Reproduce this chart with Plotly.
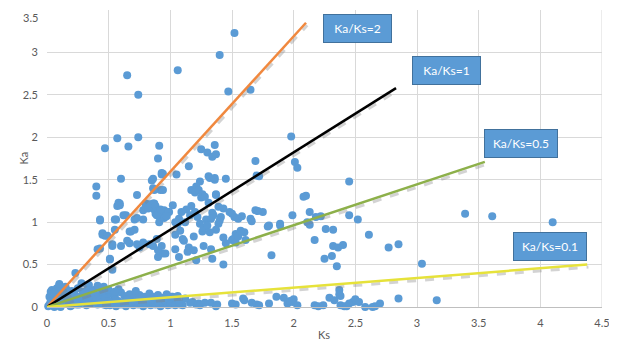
import plotly.graph_objects as go

# ---- scatter data (Ks, Ka) ----
ks_upper = [0.47,0.57,0.65,0.66,0.60,0.74,0.74,0.91,0.90,0.94,0.86,1.06,1.05,1.15,1.25,1.30,1.34,1.36,1.37,1.40,1.47,1.52,1.65,1.69,1.98,2.01,2.03,1.32,1.36,1.45,1.24,1.72,0.93,1.70]
ka_upper = [1.87,1.99,2.73,1.89,1.51,2.50,2.00,1.90,1.75,1.57,1.51,2.79,1.56,1.66,1.86,1.82,1.77,1.91,1.80,2.97,2.54,3.23,2.56,1.72,2.01,1.71,1.64,1.52,1.50,1.51,1.48,1.54,1.56,1.55]

ks_mid = [0.40,0.40,0.43,0.41,0.45,0.47,0.53,0.51,0.56,0.57,0.59,0.53,0.55,0.60,0.64,0.68,0.67,0.73,0.75,0.78,0.78,0.80,0.85,0.86,0.87,0.88,0.91,0.91,0.93,0.89,0.90,0.94,0.95,0.99,1.02,0.94,1.07,1.08,1.07,1.12,1.11,1.17,1.21,1.25,1.17,1.20,1.22,1.24,1.26,1.29,1.31,1.36,1.37,1.31,1.34,1.39,1.41,1.39,1.37,1.43,1.43,1.34,1.21,1.14,1.48,1.50,1.50,1.53,1.55,1.60,1.61,1.65,1.69,1.75,1.79,1.82,1.89,1.99,2.10,2.11,
          1.20,1.23,1.26,1.28,1.37,1.43,1.35,1.33,1.40,1.09,1.13,1.16,1.04,1.06,1.27,1.30,1.32,1.04,1.10,1.19,1.15,1.04,1.19,1.33,1.51,1.53,1.55,1.57,1.52,1.58,1.66,1.71,1.80,1.89,2.08,1.27,1.45,
          0.45,0.49,0.67,0.71,0.65,0.53,0.43,0.51,0.73,0.78,0.83,0.86,0.90,0.96,0.23,0.10,0.34,
          0.93,0.87,0.92,0.58,0.59,0.80,0.83,0.87,0.82,0.86,0.88,0.90,0.93,0.95,0.98,0.89,0.92,0.97,0.43,0.55,0.62,0.71,0.73]
ka_mid = [1.42,1.31,1.02,0.68,0.87,0.84,0.44,0.56,1.03,1.19,1.22,0.72,0.91,0.72,1.08,0.89,0.75,1.32,0.70,1.14,1.03,1.22,1.49,1.40,1.22,1.10,1.07,1.00,0.72,0.80,0.59,0.63,1.14,1.12,1.20,1.38,1.04,0.90,0.59,1.00,0.78,1.38,1.42,1.29,1.19,1.12,1.06,0.98,0.89,1.03,1.54,1.52,1.33,1.23,1.11,1.18,1.06,0.98,0.91,0.82,0.50,0.57,0.55,0.65,1.12,1.10,0.79,0.86,1.04,0.88,0.79,1.04,1.14,1.12,0.95,0.61,0.96,1.08,1.31,1.00,
          1.35,1.38,1.33,1.30,1.32,1.16,1.08,1.04,1.02,1.12,1.15,1.08,1.00,0.98,0.93,0.96,0.88,0.85,0.80,0.83,0.70,0.68,0.67,0.68,0.80,0.76,0.83,0.90,1.06,1.07,1.01,1.13,0.96,0.98,1.30,0.72,0.75,
          0.85,0.84,0.89,0.91,0.78,0.74,0.69,0.57,0.74,0.76,0.74,0.72,0.67,0.63,0.40,0.26,0.26,
          1.58,1.38,1.38,1.23,1.20,1.18,1.21,1.15,1.16,1.22,1.19,1.13,1.10,1.05,1.12,1.08,1.15,1.07,1.03,1.03,1.08,1.03,1.05]

ks_right = [2.45,2.13,2.13,2.18,2.22,2.17,2.26,2.32,2.45,2.52,2.61,2.32,2.36,2.40,2.25,2.31,2.35,2.77,2.85,3.04,3.39,3.61,4.10]
ka_right = [1.48,1.12,0.97,1.06,1.07,0.79,0.92,0.91,1.08,1.03,0.85,0.72,0.70,0.73,0.57,0.60,0.48,0.70,0.74,0.51,1.10,1.07,1.00]

ks_low = [2.17,2.20,2.24,2.29,2.33,2.37,2.37,2.38,2.38,2.41,2.43,2.45,2.48,2.50,2.53,2.58,2.64,2.66,2.70,2.85,3.16,
          1.02,1.00,1.03,1.05,1.08,1.18,1.21,1.23,1.33,1.38,1.37,1.53,1.59,1.66,1.70,1.72,1.80,1.86,1.92,1.95,1.97,2.00,1.16,1.24,1.28,1.50,1.60,1.99,2.03,1.12,1.10,
          0.50,0.55,0.60,0.63,0.67,0.71,0.75,0.79,0.83,0.86,0.90,0.94,0.97,1.01,1.06,0.58,0.72,
          0.46,0.48,0.51,0.53,0.56,0.58,0.60,0.62,0.64,0.66,0.68,0.70,0.72,0.74,0.76,0.78,0.80,0.82,0.84,0.86,0.88,0.90,0.92,0.94,0.96,0.98,1.00,1.04,1.07,0.55,0.65,0.75,0.85,0.95]
ka_low = [0.02,0.01,0.02,0.11,0.08,0.20,0.15,0.13,0.02,0.01,0.01,0.04,0.06,0.09,0.06,0.00,0.00,0.01,0.04,0.10,0.08,
          0.12,0.05,0.08,0.06,0.03,0.06,0.03,0.04,0.05,0.03,0.01,0.03,0.10,0.05,0.03,0.02,0.04,0.12,0.11,0.04,0.07,0.09,0.05,0.02,0.05,0.04,0.08,0.06,0.02,0.10,0.02,
          0.15,0.12,0.17,0.13,0.15,0.11,0.14,0.12,0.16,0.12,0.14,0.11,0.15,0.12,0.13,0.21,0.19,
          0.03,0.06,0.02,0.05,0.01,0.07,0.03,0.05,0.01,0.04,0.07,0.02,0.05,0.03,0.06,0.01,0.04,0.07,0.02,0.05,0.03,0.06,0.01,0.04,0.07,0.02,0.03,0.02,0.05,0.09,0.09,0.09,0.09,0.09]

ks_origin = [0.01,0.02,0.03,0.04,0.05,0.06,0.07,0.08,0.09,0.10,0.11,0.12,0.13,0.14,0.15,0.16,0.17,0.18,0.19,0.20,0.21,0.22,0.23,0.24,0.25,0.26,0.27,0.28,0.29,0.30,0.31,0.32,0.33,0.34,0.35,0.36,0.37,0.38,0.39,0.40,0.41,0.42,0.43,0.44,0.45,0.47,0.48,0.50,
             0.02,0.03,0.05,0.08,0.10,0.04,0.06,0.07,0.09,0.12,0.14,0.16,0.18,0.20,0.22,0.24,0.26,0.28,0.30,0.46,0.50,0.55,0.33,0.37,0.41,0.15,0.19,0.11,0.03,0.06]
ka_origin = [0.01,0.03,0.02,0.06,0.04,0.10,0.02,0.15,0.05,0.08,0.18,0.03,0.12,0.06,0.10,0.20,0.04,0.14,0.08,0.02,0.11,0.16,0.05,0.10,0.22,0.03,0.08,0.13,0.18,0.05,0.10,0.02,0.15,0.07,0.12,0.04,0.09,0.20,0.06,0.11,0.03,0.14,0.08,0.05,0.17,0.10,0.02,0.07,
             0.12,0.18,0.15,0.22,0.27,0.20,0.17,0.08,0.12,0.09,0.16,0.13,0.05,0.19,0.07,0.03,0.12,0.28,0.16,0.24,0.20,0.18,0.22,0.18,0.25,0.24,0.01,0.00,0.07,0.00]

ks = ks_upper + ks_mid + ks_right + ks_low + ks_origin
ka = ka_upper + ka_mid + ka_right + ka_low + ka_origin

# ---- reference lines (drawn from origin to end point) ----
line_labels = ["Ka/Ks=2", "Ka/Ks=1", "Ka/Ks=0.5", "Ka/Ks=0.1"]
line_end_ks = [2.10, 2.83, 3.55, 4.38]
line_end_ka = [3.35, 2.58, 1.71, 0.50]
line_colors = ["#F0883E", "#000000", "#8DB04A", "#E6E23A"]
label_ks = [2.514, 3.236, 3.840, 4.075]
label_ka = [3.284, 2.783, 1.928, 0.713]
label_w = [69, 69, 74, 74]

x_ticks = [0, 0.5, 1, 1.5, 2, 2.5, 3, 3.5, 4, 4.5]
y_ticks = [0, 0.5, 1, 1.5, 2, 2.5, 3, 3.5]

fig = go.Figure()
fig.add_trace(go.Scatter(x=ks, y=ka, mode="markers",
                         marker=dict(size=8, color="#5B9BD5", line=dict(width=0)),
                         showlegend=False, hoverinfo="x+y", cliponaxis=False))

# soft shadows under the reference lines
for ex, ey in zip(line_end_ks, line_end_ka):
    fig.add_trace(go.Scatter(x=[0.01, ex + 0.01], y=[-0.03, ey - 0.03], mode="lines",
                             line=dict(color="rgba(130,130,130,0.35)", width=3, dash="dash"),
                             showlegend=False, hoverinfo="skip"))
for ex, ey, c in zip(line_end_ks, line_end_ka, line_colors):
    fig.add_trace(go.Scatter(x=[0, ex], y=[0, ey], mode="lines",
                             line=dict(color=c, width=2.5),
                             showlegend=False, hoverinfo="skip", cliponaxis=False))

for t, lx, ly, w in zip(line_labels, label_ks, label_ka, label_w):
    fig.add_annotation(x=lx, y=ly, xref="x", yref="y", text=t, showarrow=False,
                       font=dict(family="Lato, Open Sans, sans-serif", size=12, color="white"),
                       bgcolor="#5B9BD5", bordercolor="#41719C", borderwidth=1,
                       width=w - 4, height=29 - 4, borderpad=1, align="center", valign="middle")

# page has an 8px body margin -> figure is 8px smaller and origin shifted
OFF = 8
W, H = 617 - OFF, 355 - OFF
L, R, T, B = 47 - OFF, 15, 10 - OFF, 48

def px_to_paper(px, py):
    return ((px - OFF) - L) / (W - L - R), (H - B - (py - OFF)) / (H - T - B)

kx, ky = px_to_paper(14, 158)
fig.add_annotation(x=kx, y=ky, xref="paper", yref="paper", text="Ka", showarrow=False,
                   textangle=-90, font=dict(size=11, color="#595959"))
sx, sy = px_to_paper(324, 343)
fig.add_annotation(x=sx, y=sy, xref="paper", yref="paper", text="Ks", showarrow=False,
                   font=dict(size=11, color="#595959"))

# top y tick label drawn as annotation, kept just inside the figure
y_ticktext = [f"{v:g}" for v in y_ticks]
top_label = y_ticktext[-1]
y_ticktext[-1] = ""
fig.add_annotation(x=0, y=y_ticks[-1], xref="paper", yref="y", text=top_label,
                   showarrow=False, xanchor="right", yanchor="top", xshift=-8, yshift=0,
                   borderpad=0, font=dict(size=11, color="#595959"))

fig.update_layout(
    width=W, height=H,
    margin=dict(l=L, r=R, t=T, b=B, autoexpand=False),
    paper_bgcolor="white", plot_bgcolor="white",
    font=dict(family="Lato, Open Sans, sans-serif", size=11, color="#595959"),
    xaxis=dict(range=[0, 4.5], tickvals=x_ticks, ticktext=[f"{v:g}" for v in x_ticks],
               showgrid=True, gridcolor="#D9D9D9", gridwidth=1, zeroline=False,
               showline=True, linecolor="#BFBFBF", linewidth=1,
               ticks="", ticklabelstandoff=6, automargin=False, ticklabeloverflow="allow"),
    yaxis=dict(range=[0, 3.5], tickvals=y_ticks, ticktext=y_ticktext,
               showgrid=True, gridcolor="#D9D9D9", gridwidth=1, zeroline=False,
               showline=False, ticks="", ticklabelstandoff=8, automargin=False,
               ticklabeloverflow="allow"),
)
fig.add_shape(type="line", xref="x", yref="paper", x0=4.5, x1=4.5, y0=0, y1=1,
              line=dict(color="#D9D9D9", width=1), layer="below")

fig.write_html("out.html")
